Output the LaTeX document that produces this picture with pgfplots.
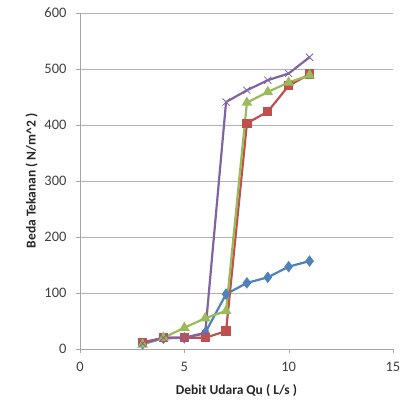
\documentclass[border=0pt]{standalone}
\usepackage{pgfplots}
\pgfplotsset{compat=1.18}
\usepackage{fontspec}
\setmainfont{Carlito}
\definecolor{cblue}{HTML}{4F81BD}
\definecolor{cred}{HTML}{C0504D}
\definecolor{cgreen}{HTML}{9BBB59}
\definecolor{cpurple}{HTML}{8064A2}
\definecolor{ctext}{HTML}{404040}
\begin{document}
\begin{tikzpicture}
\path (-80pt,-59pt) rectangle (321pt,349pt);
\begin{axis}[
  at={(0,0)}, anchor=south west,
  scale only axis, width=313pt, height=336pt,
  xmin=0, xmax=15, ymin=0, ymax=600,
  xtick={0,5,10,15}, ytick={0,100,200,300,400,500,600},
  axis x line*=bottom, axis y line*=left,
  axis line style={gray!70, -},
  ymajorgrids, grid style={gray!60, line width=0.6pt},
  tick style={gray!70}, tick align=outside, major tick length=4pt,
  /pgf/number format/assume math mode=true,
  tick label style={font=\fontsize{14.5}{16}\selectfont, text=ctext},
  xticklabel style={yshift=-6pt},
  yticklabel style={xshift=-6pt},
  xlabel={\textbf{Debit Udara Qu ( L/s )}},
  ylabel={\textbf{Beda Tekanan ( N/m\^{}2 )}},
  label style={font=\fontsize{13.5}{15}\selectfont, text=black!85},
  xlabel style={yshift=-6pt},
  ylabel style={yshift=0pt},
  every axis plot/.append style={line width=2.2pt},
]
\addplot[cblue, mark=diamond*, mark size=4pt] coordinates {
(3,9) (4,19) (5,20) (6,29) (7,98) (8,118) (9,128) (10,147) (11,157)};
\addplot[cred, mark=square*, mark size=3.5pt] coordinates {
(3,12) (4,20) (5,20) (6,20) (7,32) (8,403) (9,424) (10,470) (11,491)};
\addplot[cgreen, mark=triangle*, mark size=4pt] coordinates {
(3,8) (4,20) (5,38) (6,55) (7,68) (8,440) (9,459) (10,476) (11,489)};
\addplot[cpurple, mark=x, mark size=5pt, mark options={line width=0.8pt}] coordinates {
(3,10) (4,20) (5,20) (6,28) (7,441) (8,462) (9,480) (10,492) (11,521)};
\end{axis}
\end{tikzpicture}
\end{document}
